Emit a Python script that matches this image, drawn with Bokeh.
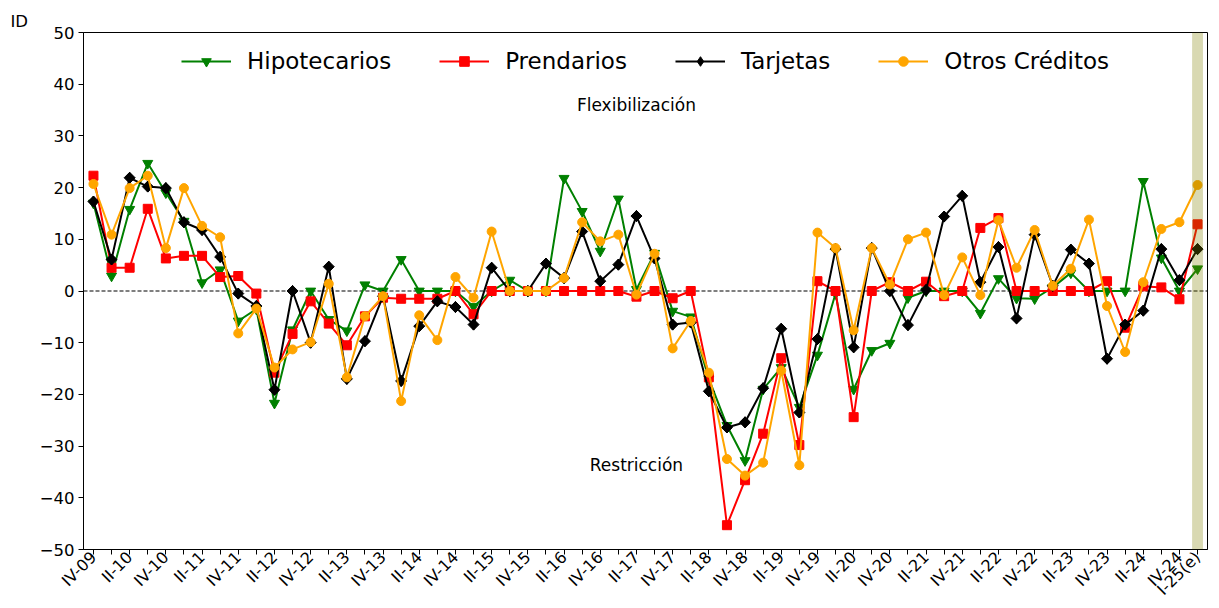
import math
from bokeh.plotting import figure
from bokeh.models import (Range1d, FixedTicker, Span, BoxAnnotation, Label, Title,
                          LegendItem, Legend)
from bokeh.embed import file_html
from bokeh.resources import INLINE

quarters = [
    "IV-09",
    "I-10", "II-10", "III-10", "IV-10",
    "I-11", "II-11", "III-11", "IV-11",
    "I-12", "II-12", "III-12", "IV-12",
    "I-13", "II-13", "III-13", "IV-13",
    "I-14", "II-14", "III-14", "IV-14",
    "I-15", "II-15", "III-15", "IV-15",
    "I-16", "II-16", "III-16", "IV-16",
    "I-17", "II-17", "III-17", "IV-17",
    "I-18", "II-18", "III-18", "IV-18",
    "I-19", "II-19", "III-19", "IV-19",
    "I-20", "II-20", "III-20", "IV-20",
    "I-21", "II-21", "III-21", "IV-21",
    "I-22", "II-22", "III-22", "IV-22",
    "I-23", "II-23", "III-23", "IV-23",
    "I-24", "II-24", "III-24", "IV-24",
    "I-25(e)",
]

hipotecarios = [
    17.0, 2.9, 15.8, 24.7, 19.0, 13.5, 1.6, 4.1, -5.8, -3.5,
    -21.7, -7.5, 0.0, -5.5, -7.7, 1.2, 0.0, 6.1, 0.0, 0.0,
    0.0, -3.0, 0.0, 2.1, 0.0, 0.0, 21.8, 15.4, 7.7, 17.8,
    0.3, 7.3, -3.9, -5.0, -17.0, -26.0, -32.8, -19.0, -14.8, -22.5,
    -12.4, -0.5, -19.0, -11.5, -10.1, -1.3, 0.0, 0.0, 0.0, -4.3,
    2.4, -1.4, -1.5, 0.7, 3.5, 0.0, 0.0, 0.0, 21.2, 6.4,
    0.0, 4.3,
]
prendarios = [
    22.3, 4.5, 4.5, 15.9, 6.3, 6.8, 6.8, 2.7, 2.9, -0.5,
    -15.8, -8.3, -2.0, -6.3, -10.5, -4.9, -1.3, -1.5, -1.5, -1.5,
    0.0, -4.5, 0.0, 0.0, 0.0, 0.0, 0.0, 0.0, 0.0, 0.0,
    -1.1, 0.0, -1.4, 0.0, -16.7, -45.3, -36.6, -27.6, -13.0, -29.8,
    1.9, 0.0, -24.4, 0.0, 1.7, 0.0, 1.8, -1.0, 0.0, 12.2,
    14.1, 0.0, 0.0, 0.0, 0.0, 0.0, 1.9, -7.1, 0.9, 0.7,
    -1.6, 12.9,
]
tarjetas = [
    17.3, 6.1, 21.9, 20.2, 19.9, 13.3, 11.8, 6.6, -0.5, -2.9,
    -19.1, 0.0, -10.0, 4.7, -17.0, -9.7, -1.0, -17.4, -6.8, -2.0,
    -3.1, -6.5, 4.5, 0.0, 0.0, 5.3, 2.5, 11.5, 1.9, 5.1,
    14.5, 6.3, -6.5, -6.1, -19.4, -26.4, -25.4, -18.8, -7.3, -23.5,
    -9.3, 8.1, -10.9, 8.3, 0.0, -6.6, 0.2, 14.4, 18.4, 1.7,
    8.5, -5.3, 10.9, 1.0, 8.0, 5.3, -13.1, -6.5, -3.8, 8.1,
    2.1, 8.1,
]
otros = [
    20.7, 10.9, 19.9, 22.3, 8.3, 19.9, 12.6, 10.4, -8.2, -3.4,
    -14.8, -11.3, -9.9, 1.4, -16.7, -4.9, -1.0, -21.3, -4.7, -9.5,
    2.7, -1.3, 11.5, 0.0, 0.0, 0.0, 2.5, 13.3, 9.6, 10.9,
    -0.7, 7.2, -11.1, -5.8, -15.8, -32.5, -35.7, -33.2, -15.4, -33.7,
    11.3, 8.3, -7.6, 8.3, 1.25, 10.0, 11.3, -0.8, 6.5, -0.8,
    13.7, 4.5, 11.8, 1.0, 4.3, 13.8, -2.9, -11.8, 1.7, 12.0,
    13.3, 20.5,
]

series_names = ["Hipotecarios", "Prendarios", "Tarjetas", "Otros Créditos"]
y_ticks = [-50, -40, -30, -20, -10, 0, 10, 20, 30, 40, 50]

FONT = "DejaVu Sans"
x = list(range(len(quarters)))

p = figure(width=1219, height=608, output_backend="svg", toolbar_location=None,
           x_range=Range1d(-0.55, len(quarters) - 0.45), y_range=Range1d(-50, 50),
           min_border_left=83, min_border_right=12, min_border_top=32,
           min_border_bottom=57)
p.background_fill_color = "white"
p.border_fill_color = "white"
p.outline_line_color = "black"
p.outline_line_width = 1
p.xgrid.visible = False
p.ygrid.visible = False

zero = Span(location=0, dimension="width", line_color="black",
            line_dash="4 2", line_width=1.1, level="underlay")
p.add_layout(zero)

styles = [
    (hipotecarios, "green", "inverted_triangle", 10, 0.0),
    (prendarios, "red", "square", 9, 0.0),
    (tarjetas, "black", "square", 7.8, math.pi / 4),
    (otros, "orange", "circle", 9, 0.0),
]
items = []
for name, (vals, col, mk, sz, ang) in zip(series_names, styles):
    r_line = p.line(x, vals, line_color=col, line_width=2, line_join="round")
    if ang != 0.0:
        # narrow diamond hidden under the rotated square; used as legend glyph
        r_leg = p.scatter(x, vals, marker="diamond", size=11, fill_color=col,
                          line_color=col)
        p.scatter(x, vals, marker=mk, size=sz, angle=ang, fill_color=col,
                  line_color=col)
    else:
        r_leg = p.scatter(x, vals, marker=mk, size=sz, fill_color=col,
                          line_color=col)
    items.append(LegendItem(label=name, renderers=[r_line, r_leg]))

band = BoxAnnotation(left=len(quarters) - 1.3, right=len(quarters) - 0.7,
                     fill_color="olive", fill_alpha=0.3, line_color=None)
p.add_layout(band)

p.add_layout(Label(x=30, y=36, text="Flexibilización", text_align="center",
                   text_baseline="middle", text_font=FONT,
                   text_font_size="17px", text_color="black"))
p.add_layout(Label(x=30, y=-33.6, text="Restricción", text_align="center",
                   text_baseline="middle", text_font=FONT,
                   text_font_size="17px", text_color="black"))
p.add_layout(Title(text="ID", align="left", offset=-73, standoff=4,
                   text_font=FONT, text_font_size="16.5px",
                   text_font_style="normal", text_color="black"), "above")

# x axis
xa = p.xaxis[0]
xa.ticker = FixedTicker(ticks=x, minor_ticks=[])
xa.major_label_overrides = {
    i: (quarters[i] if (i % 2 == 0 or i == len(quarters) - 1) else "") for i in x
}
xa.major_label_orientation = math.pi / 4
xa.major_label_text_font = FONT
xa.major_label_text_font_size = "16px"
xa.major_label_text_color = "black"
xa.major_tick_in = 0
xa.major_tick_out = 5
xa.axis_line_color = "black"
xa.major_tick_line_color = "black"
xa.major_label_standoff = 0

# y axis
ya = p.yaxis[0]
ya.ticker = FixedTicker(ticks=y_ticks, minor_ticks=[])
ya.major_label_overrides = {t: (f"\u2212{abs(t)}" if t < 0 else str(t)) for t in y_ticks}
ya.major_label_text_font = FONT
ya.major_label_text_font_size = "16.5px"
ya.major_label_text_color = "black"
ya.major_tick_in = 0
ya.major_tick_out = 5
ya.axis_line_color = "black"
ya.major_tick_line_color = "black"
ya.major_label_standoff = 4

lg = Legend(items=items, location="top_center", orientation="horizontal")
lg.label_text_font = FONT
lg.label_text_font_size = "23px"
lg.label_text_color = "black"
lg.glyph_width = 50
lg.glyph_height = 24
lg.label_standoff = 16
lg.spacing = 48
lg.border_line_color = None
lg.background_fill_alpha = 0
lg.margin = 16
lg.padding = 8
p.add_layout(lg, "center")

open("out.html", "w").write(file_html(p, INLINE))
